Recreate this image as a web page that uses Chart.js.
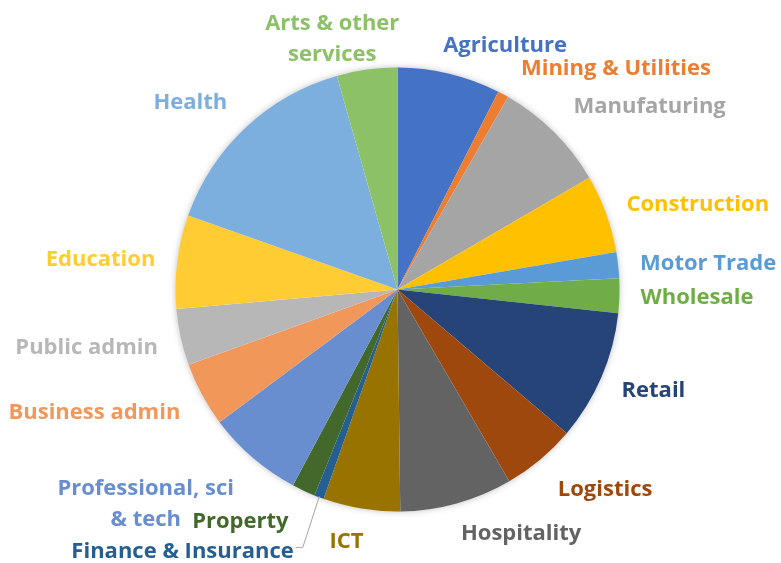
<!DOCTYPE html>
<html>
<head>
<meta charset="utf-8">
<script src="https://cdn.jsdelivr.net/npm/chart.js@4"></script>
<style>
  html, body { margin: 0; padding: 0; background: #ffffff; }
  #wrap { width: 781px; height: 563px; position: relative; }
</style>
</head>
<body>
<div id="wrap"><canvas id="c" width="781" height="563"></canvas></div>
<script>
// ---- data ----
const categories = [
  'Agriculture', 'Mining & Utilities', 'Manufaturing', 'Construction', 'Motor Trade',
  'Wholesale', 'Retail', 'Logistics', 'Hospitality', 'ICT', 'Finance & Insurance',
  'Property', ['Professional, sci', '& tech'], 'Business admin', 'Public admin',
  'Education', 'Health', ['Arts & other', 'services']
];
const shares = [7.5, 0.8, 8.3, 5.7, 1.9, 2.5, 9.5, 5.4, 8.2, 5.6, 0.7, 1.7, 7.0, 4.7, 4.1, 6.8, 15.2, 4.4];

// ---- styles / layout ----
const sliceColors = [
  '#4472C4', '#ED7D31', '#A5A5A5', '#FFC000', '#5B9BD5', '#70AD47', '#264478', '#9E480E',
  '#636363', '#997300', '#255E91', '#43682B', '#698ED0', '#F1975A', '#B7B7B7', '#FFCD33',
  '#7CAFDD', '#8CC168'
];
const labelColors = [
  '#4472C4', '#ED7D31', '#A5A5A5', '#FFC000', '#5B9BD5', '#70AD47', '#264478', '#9E480E',
  '#636363', '#997300', '#255E91', '#43682B', '#698ED0', '#F1975A', '#B7B7B7', '#FFCD33',
  '#7CAFDD', '#8CC168'
];
// label nudges in px relative to the default outside position
const labelNudge = [
  [-9, -16.5], [12, -15.5], [11, -16.5], [9, -4.5], [10, -0.5], [9, 1.5], [9, 9], [10, 21],
  [1, 19], [-13, 21], [-21, 43], [-10, 20], [-11, 37], [-11, 12.5], [-11, 7.5], [-10, -0.5],
  [-10, -16.5], [-33, -18.5]
];
const leaderLines = [false, false, false, false, false, false, false, false, false, false,
  true, false, false, false, false, false, false, false];

const FONT = 'bold 22px "Open Sans", Lato, sans-serif';
const LINE_H = 31;

const shadowPlugin = {
  id: 'pieShadow',
  beforeDatasetsDraw(chart) {
    const arc = chart.getDatasetMeta(0).data[0];
    if (!arc) return;
    const { x, y, outerRadius } = arc.getProps(['x', 'y', 'outerRadius'], true);
    const ctx = chart.ctx;
    ctx.save();
    ctx.shadowColor = 'rgba(0,0,0,0.28)';
    ctx.shadowBlur = 7;
    ctx.shadowOffsetX = 0;
    ctx.shadowOffsetY = 0;
    ctx.fillStyle = '#ffffff';
    ctx.beginPath();
    ctx.arc(x, y, outerRadius - 0.5, 0, Math.PI * 2);
    ctx.fill();
    ctx.restore();
  }
};

const outsideLabels = {
  id: 'outsideLabels',
  afterDatasetsDraw(chart) {
    const ctx = chart.ctx;
    const meta = chart.getDatasetMeta(0);
    ctx.save();
    ctx.font = FONT;
    meta.data.forEach((arc, i) => {
      const p = arc.getProps(['x', 'y', 'startAngle', 'endAngle', 'outerRadius'], true);
      const mid = (p.startAngle + p.endAngle) / 2;
      const R = p.outerRadius + 12;
      const cx = Math.cos(mid), sy = Math.sin(mid);
      let lx = p.x + cx * R + labelNudge[i][0];
      let ly = p.y + sy * R + labelNudge[i][1];
      const lab = chart.data.labels[i];
      const lines = Array.isArray(lab) ? lab : [lab];
      let align;
      if (cx > 0.2) align = 'left';
      else if (cx < -0.2) align = 'right';
      else align = 'center';
      const widths = lines.map(l => ctx.measureText(l).width);
      const bw = Math.max(...widths);
      let blockCenter;
      if (align === 'left') blockCenter = lx + bw / 2;
      else if (align === 'right') blockCenter = lx - bw / 2;
      else blockCenter = lx;

      if (leaderLines[i]) {
        const ax = p.x + cx * (p.outerRadius - 1);
        const ay = p.y + sy * (p.outerRadius - 1);
        ctx.strokeStyle = '#A6A6A6';
        ctx.lineWidth = 1;
        ctx.beginPath();
        ctx.moveTo(ax, ay);
        ctx.lineTo(lx + 9, ly - 4);
        ctx.lineTo(lx + 2, ly - 4);
        ctx.stroke();
      }

      ctx.fillStyle = labelColors[i];
      ctx.textAlign = 'center';
      ctx.textBaseline = 'middle';
      const top = ly - (lines.length - 1) * LINE_H / 2;
      lines.forEach((l, k) => {
        ctx.fillText(l, blockCenter, top + k * LINE_H);
      });
    });
    ctx.restore();
  }
};

new Chart(document.getElementById('c'), {
  type: 'pie',
  data: {
    labels: categories,
    datasets: [{
      data: shares,
      backgroundColor: sliceColors,
      borderWidth: 0
    }]
  },
  options: {
    responsive: false,
    animation: false,
    layout: { padding: { top: 67.5, bottom: 51.5, left: 175.5, right: 161.5 } },
    plugins: {
      legend: { display: false },
      tooltip: { enabled: false }
    }
  },
  plugins: [shadowPlugin, outsideLabels]
});
</script>
</body>
</html>
